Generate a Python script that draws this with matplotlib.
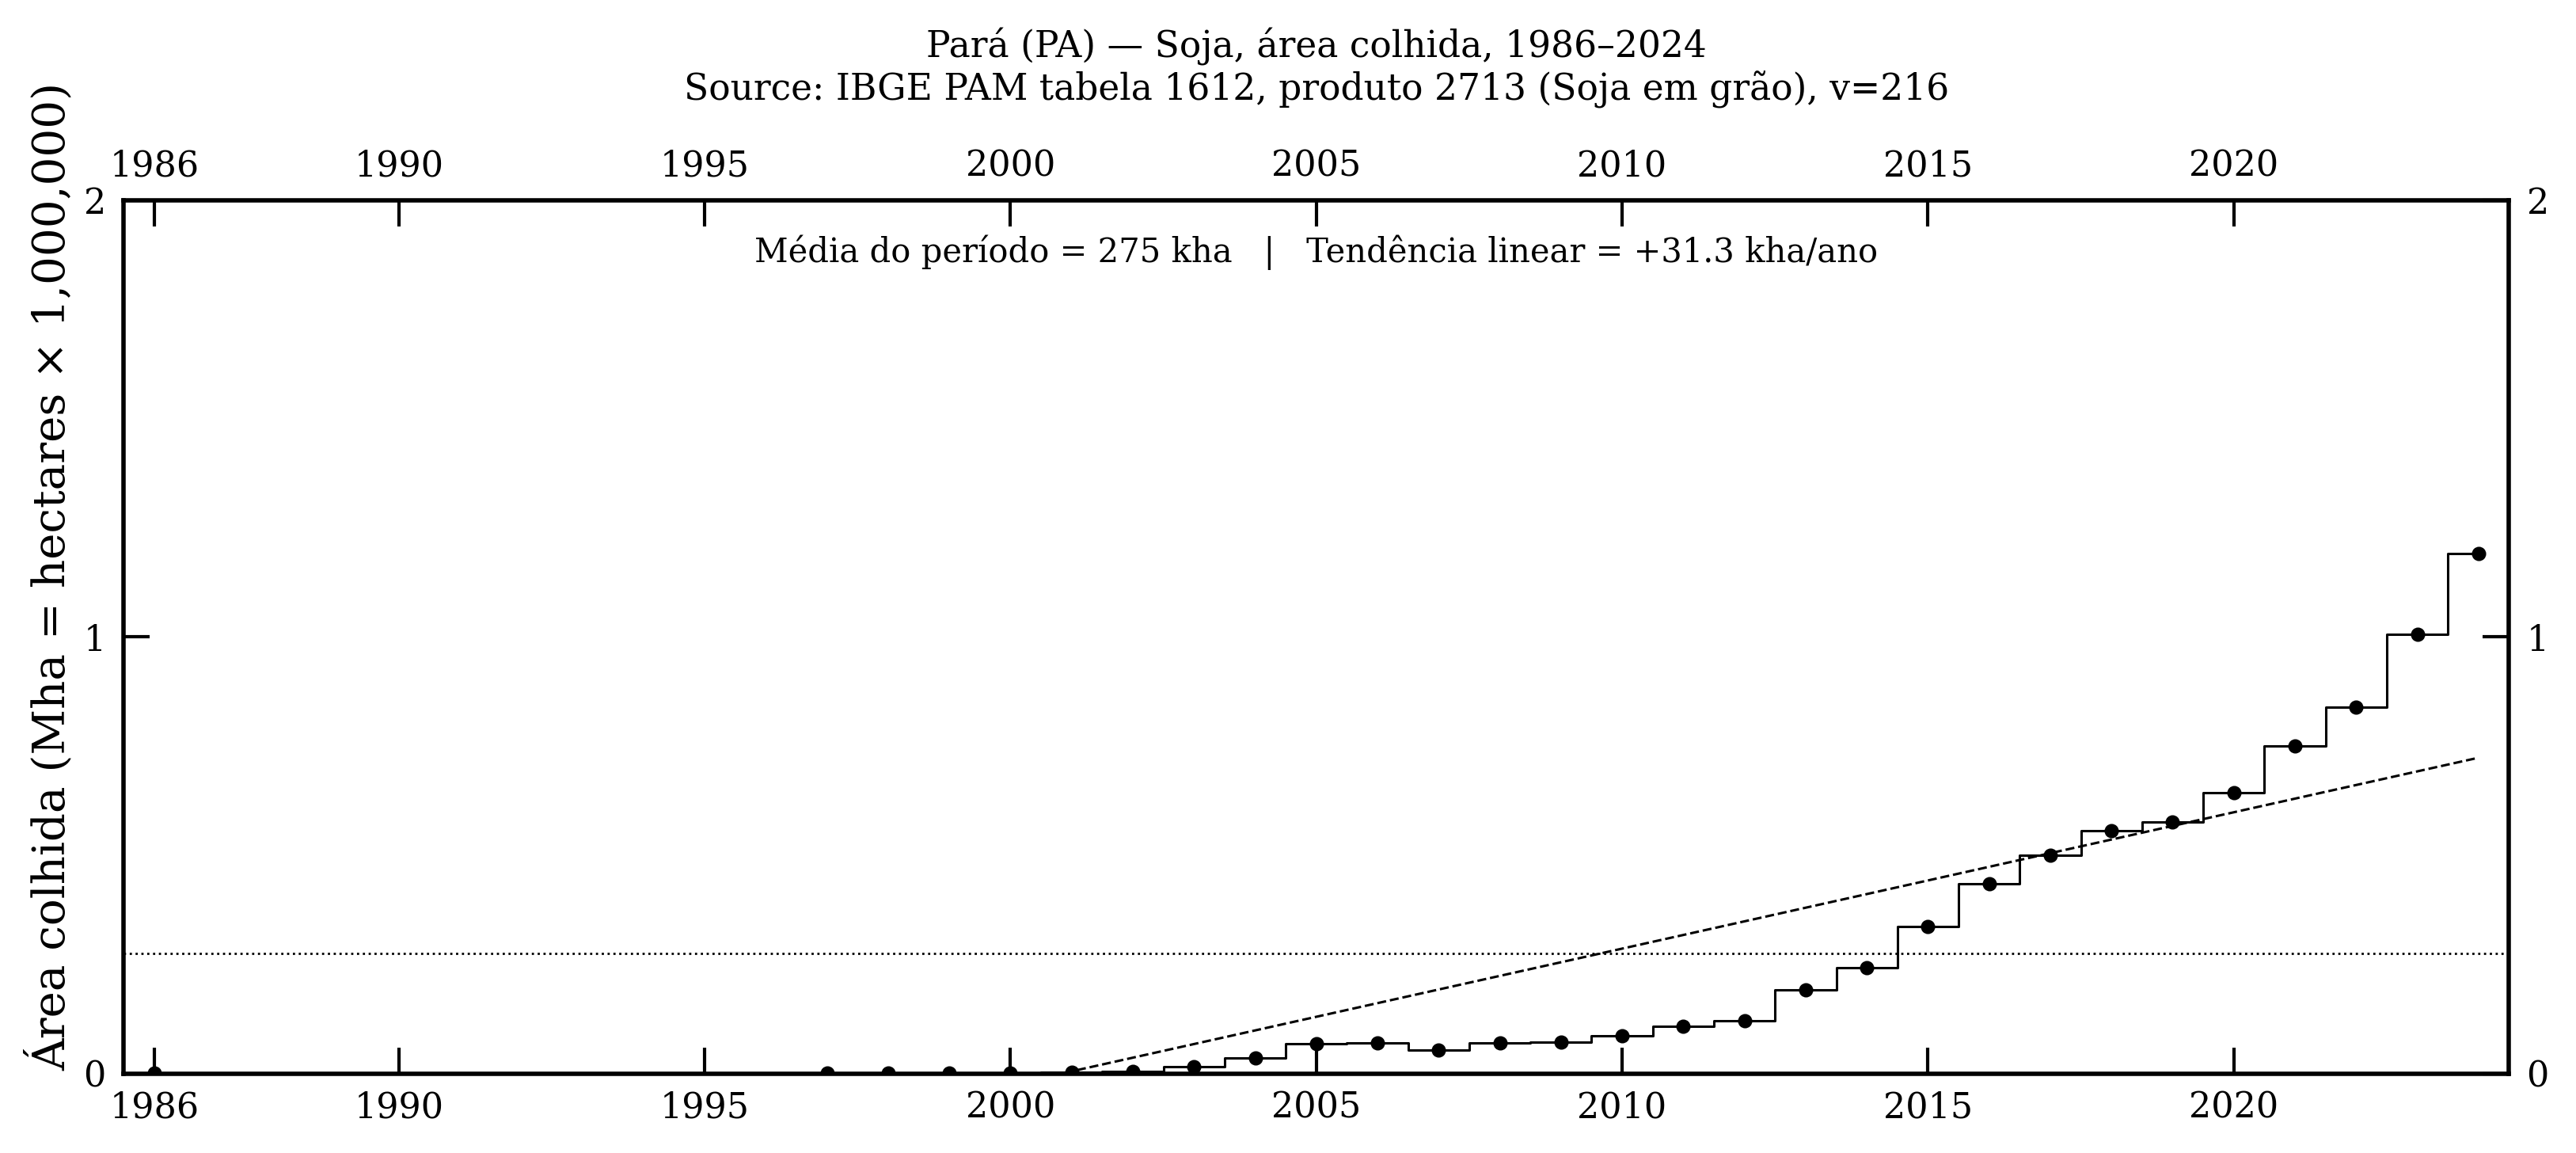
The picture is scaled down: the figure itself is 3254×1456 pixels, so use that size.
"""
Pará (PA) - soja, área colhida (IBGE PAM 1612)
"""
import matplotlib
matplotlib.use("Agg")
import matplotlib.pyplot as plt
import numpy as np

plt.rcParams['font.family'] = ['DejaVu Serif']

# --- dados (Mha) --- NaN = sem registro
anos = np.arange(1986, 2025)
area_mha = np.array([
    0.0005, np.nan, np.nan, np.nan, np.nan, np.nan,   # 1986-1991
    0.0, 0.0, 0.0, 0.0, 0.0,                          # 1992-1996
    0.0008, 0.0008, 0.0009, 0.0010, 0.0030,           # 1997-2001
    0.005, 0.016, 0.036, 0.068, 0.070,                # 2002-2006
    0.054, 0.070, 0.072, 0.086, 0.108,                # 2007-2011
    0.120, 0.191, 0.243, 0.337, 0.434,                # 2012-2016
    0.500, 0.556, 0.577, 0.644, 0.751,                # 2017-2021
    0.840, 1.007, 1.191,                              # 2022-2024
])
xticks = [1986, 1990, 1995, 2000, 2005, 2010, 2015, 2020]
yticks = [0, 1, 2]
texto_media = "Média do período = 275 kha   |   Tendência linear = +31.3 kha/ano"

# pontos com valor registrado (>0)
ok = np.nan_to_num(area_mha) > 0
media = np.mean(area_mha[ok])
coef = np.polyfit(anos[ok], area_mha[ok], 1)

fig, ax = plt.subplots(figsize=(16.27, 7.28), dpi=200)
fig.subplots_adjust(left=0.048, right=0.974, top=0.826, bottom=0.069)

ax.step(anos, area_mha, where='mid', color='black', lw=1.1)
ax.plot(anos[ok], area_mha[ok], 'o', color='black', ms=5.5)
ax.axhline(media, color='black', ls=':', lw=1.0)
xt = np.array([anos[0], anos[-1]])
ax.plot(xt, np.polyval(coef, xt), color='black', ls='--', lw=1.1)

ax.set_xlim(1985.5, 2024.5)
ax.set_ylim(0, 2)
ax.set_xticks(xticks)
ax.set_yticks(yticks)
ax.tick_params(direction='in', length=12, width=1.5, labelsize=16, pad=8,
               top=True, labeltop=True, right=True, labelright=True)
for s in ax.spines.values():
    s.set_linewidth(2.0)

# rótulo do eixo y centrado na figura
fig.text(0.0195, 0.5, "Área colhida (Mha = hectares × 1,000,000)", rotation=90,
         ha='center', va='center', fontsize=20.3)
ax.set_title("Pará (PA) — Soja, área colhida, 1986–2024\n"
             "Source: IBGE PAM tabela 1612, produto 2713 (Soja em grão), v=216",
             fontsize=16.4, pad=22)
ax.text(0.5, 0.941, texto_media, transform=ax.transAxes, ha='center', va='center', fontsize=15)

fig.savefig("out.png", dpi=200)
